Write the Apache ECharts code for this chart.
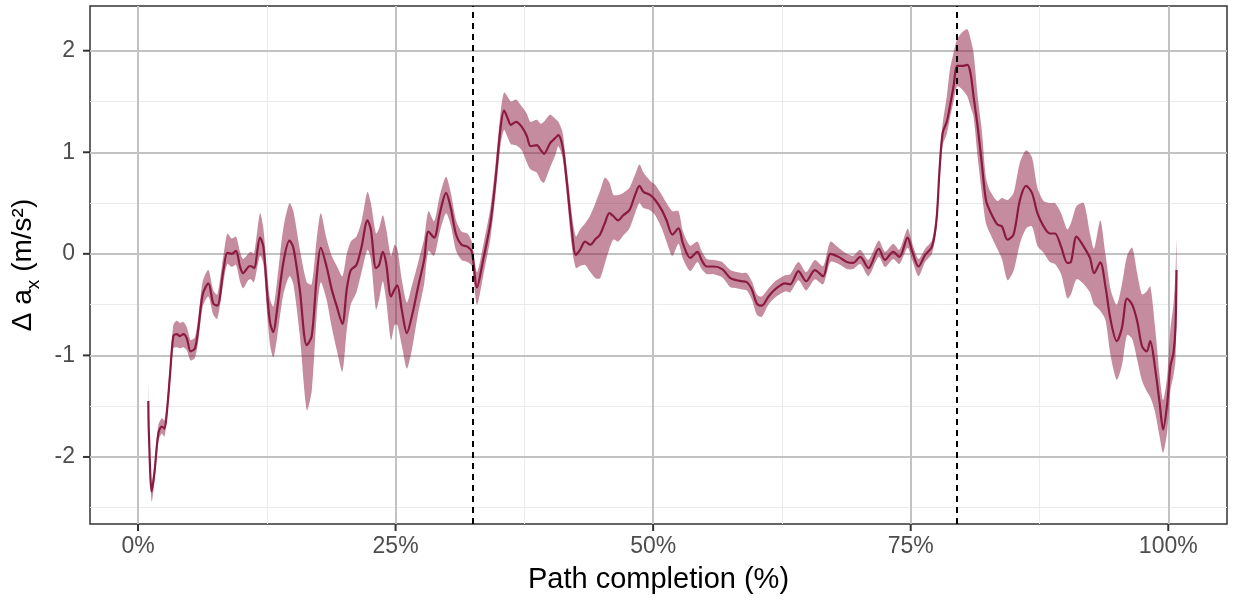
<!DOCTYPE html>
<html><head><meta charset="utf-8">
<script src="https://cdn.jsdelivr.net/npm/echarts@6/dist/echarts.min.js"></script>
<style>html,body{margin:0;padding:0;background:#fff}#c{width:1233px;height:603px}</style>
</head><body><div id="c"></div>
<script>
const pathPct = [1.0,1.05,1.33,1.6,1.97,2.3,2.56,2.79,3.1,3.43,3.75,4.08,4.4,4.73,5.11,5.53,5.86,6.28,6.83,7.31,7.70,8.29,8.67,9.1,9.51,9.9,10.2,10.7,10.94,11.26,11.84,12.17,12.56,12.82,13.14,13.46,14.1,14.7,15.08,15.7,16.38,16.86,17.35,17.74,18.3,18.8,19.3,19.84,20.26,20.65,21.2,21.7,22.27,22.6,23.1,23.4,23.76,24.08,24.56,24.9,25.17,25.6,26.1,26.57,27.2,27.77,28.19,28.74,29.3,29.9,30.36,30.87,31.4,31.97,32.4,32.9,33.5,34.2,34.7,35.2,35.53,35.86,36.2,36.7,37.25,37.74,38.1,38.7,39.1,39.4,40.0,40.5,40.8,41.2,41.6,42.1,42.5,42.9,43.4,43.9,44.4,44.85,45.3,45.76,46.15,46.6,47.1,47.7,48.25,48.67,49.06,49.7,50.2,50.84,51.3,51.87,52.46,52.9,53.6,54.3,54.7,55.2,55.86,56.7,57.5,58.1,58.6,59.1,59.58,60.07,60.55,61.2,61.84,62.8,63.3,64.1,64.85,65.7,66.5,67.2,68.0,68.8,69.4,70.1,70.9,71.9,72.5,73.3,73.9,74.7,75.1,75.76,76.4,77.06,77.5,77.8,78.1,78.5,78.8,79.16,79.5,79.97,80.5,80.8,81.1,81.5,81.9,82.3,82.7,83.4,83.85,84.4,84.98,85.6,86.2,86.77,87.3,87.9,88.5,89.0,89.6,90.2,90.55,91.1,91.8,92.4,92.8,93.4,93.9,94.4,95.0,95.5,96.0,96.5,97.0,97.45,97.9,98.25,98.7,99.16,99.5,99.9,100.2,100.5,100.7,100.8];
const meanVals = [-1.45,-1.75,-2.34,-2.15,-1.77,-1.70,-1.72,-1.57,-1.20,-0.81,-0.79,-0.81,-0.79,-0.83,-0.96,-0.93,-0.73,-0.40,-0.29,-0.49,-0.51,-0.16,0.01,0.00,0.03,-0.125,-0.19,-0.13,-0.12,-0.14,0.16,0.07,-0.42,-0.68,-0.77,-0.58,-0.09,0.13,0.06,-0.35,-0.90,-0.81,-0.22,0.06,-0.125,-0.35,-0.52,-0.69,-0.35,-0.16,-0.11,0.07,0.33,0.24,-0.14,-0.11,0.02,-0.09,-0.42,-0.35,-0.31,-0.55,-0.78,-0.62,-0.32,-0.06,0.22,0.16,0.40,0.60,0.45,0.19,0.09,0.07,0.02,-0.33,-0.06,0.30,0.73,1.25,1.41,1.34,1.27,1.30,1.25,1.16,1.06,1.07,1.02,0.985,1.09,1.14,1.17,1.06,0.73,0.24,-0.01,0.04,0.12,0.09,0.145,0.19,0.30,0.40,0.37,0.33,0.38,0.43,0.58,0.67,0.61,0.58,0.53,0.43,0.33,0.19,0.25,0.10,-0.04,0.02,-0.06,-0.125,-0.125,-0.15,-0.24,-0.26,-0.27,-0.28,-0.35,-0.49,-0.51,-0.42,-0.35,-0.29,-0.30,-0.17,-0.27,-0.16,-0.22,0.00,-0.03,-0.08,-0.09,-0.03,-0.14,0.05,-0.06,0.02,-0.03,0.16,0.04,-0.125,-0.01,0.07,0.33,0.83,1.19,1.30,1.45,1.65,1.85,1.85,1.86,1.78,1.55,1.25,0.89,0.53,0.42,0.29,0.27,0.14,0.19,0.53,0.67,0.60,0.40,0.27,0.20,0.20,0.07,-0.09,-0.08,0.17,0.07,-0.04,-0.19,-0.085,-0.32,-0.65,-0.86,-0.73,-0.44,-0.50,-0.67,-0.91,-0.96,-0.86,-1.11,-1.47,-1.73,-1.47,-1.11,-0.98,-0.72,-0.16];
const lowerVals = [-1.50,-1.85,-2.44,-2.24,-1.85,-1.77,-1.80,-1.64,-1.28,-0.93,-0.92,-0.93,-0.92,-0.95,-1.05,-1.02,-0.85,-0.52,-0.42,-0.60,-0.64,-0.28,-0.10,-0.13,-0.11,-0.27,-0.34,-0.26,-0.25,-0.28,-0.02,-0.10,-0.62,-0.90,-1.02,-0.85,-0.40,-0.22,-0.30,-0.80,-1.54,-1.35,-0.60,-0.28,-0.45,-0.72,-0.95,-1.16,-0.75,-0.50,-0.38,-0.18,0.04,-0.05,-0.55,-0.45,-0.27,-0.45,-0.85,-0.70,-0.70,-0.90,-1.13,-0.95,-0.58,-0.30,0.03,-0.02,0.22,0.40,0.28,0.03,-0.06,-0.08,-0.12,-0.50,-0.22,0.15,0.58,1.08,1.22,1.15,1.08,1.07,1.02,0.90,0.83,0.80,0.72,0.70,0.85,0.97,1.06,0.95,0.60,0.08,-0.14,-0.12,-0.11,-0.18,-0.24,-0.24,-0.10,0.05,0.14,0.12,0.18,0.25,0.40,0.50,0.45,0.43,0.38,0.25,0.12,-0.02,0.10,-0.05,-0.17,-0.08,-0.15,-0.20,-0.20,-0.23,-0.33,-0.34,-0.35,-0.36,-0.45,-0.60,-0.62,-0.50,-0.43,-0.37,-0.38,-0.26,-0.36,-0.25,-0.30,-0.08,-0.10,-0.15,-0.15,-0.10,-0.22,-0.03,-0.13,-0.05,-0.10,0.06,-0.05,-0.22,-0.08,0.00,0.25,0.72,1.07,1.18,1.33,1.50,1.65,1.62,1.55,1.45,1.35,0.95,0.60,0.30,0.20,0.05,-0.05,-0.26,-0.17,0.10,0.25,0.27,0.08,0.01,-0.08,-0.10,-0.20,-0.44,-0.40,-0.25,-0.30,-0.38,-0.50,-0.56,-0.65,-1.00,-1.24,-1.10,-0.80,-0.84,-1.05,-1.25,-1.35,-1.41,-1.55,-1.80,-1.96,-1.75,-1.35,-1.20,-1.05,-0.55];
const upperVals = [-1.29,-1.66,-2.26,-2.07,-1.69,-1.62,-1.64,-1.49,-1.10,-0.70,-0.66,-0.68,-0.67,-0.72,-0.85,-0.82,-0.62,-0.27,-0.16,-0.36,-0.40,-0.02,0.20,0.15,0.17,0.02,-0.05,0.00,0.02,0.00,0.40,0.25,-0.22,-0.45,-0.52,-0.30,0.25,0.50,0.42,0.05,-0.28,-0.30,0.15,0.40,0.15,-0.02,-0.12,-0.22,0.00,0.12,0.17,0.32,0.61,0.50,0.20,0.25,0.38,0.25,-0.02,0.09,0.05,-0.25,-0.48,-0.32,-0.08,0.15,0.42,0.32,0.58,0.76,0.60,0.33,0.22,0.20,0.12,-0.18,0.08,0.45,0.88,1.40,1.59,1.55,1.50,1.52,1.45,1.38,1.30,1.32,1.28,1.30,1.37,1.33,1.30,1.20,0.86,0.40,0.17,0.24,0.30,0.38,0.50,0.62,0.75,0.70,0.58,0.58,0.60,0.65,0.78,0.88,0.80,0.72,0.68,0.58,0.50,0.42,0.42,0.22,0.08,0.12,0.03,-0.05,-0.06,-0.08,-0.16,-0.18,-0.19,-0.19,-0.27,-0.40,-0.42,-0.34,-0.27,-0.21,-0.20,-0.08,-0.18,-0.06,-0.12,0.12,0.06,0.00,-0.02,0.04,-0.06,0.13,0.02,0.10,0.04,0.25,0.12,-0.05,0.05,0.13,0.42,0.93,1.28,1.55,1.81,1.98,2.11,2.18,2.21,2.12,1.98,1.55,1.22,0.75,0.62,0.52,0.55,0.53,0.60,0.90,1.02,0.95,0.65,0.52,0.50,0.50,0.40,0.24,0.30,0.47,0.50,0.20,0.05,0.33,0.00,-0.35,-0.50,-0.30,-0.02,0.06,-0.20,-0.40,-0.37,-0.32,-0.70,-1.20,-1.44,-1.20,-0.75,-0.50,-0.20,0.14];
const phaseBoundaries = [32.5, 79.5];
const xTicks = [0, 25, 50, 75, 100];
const xMinorTicks = [12.5, 37.5, 62.5, 87.5];
const yTicks = [-2, -1, 0, 1, 2];
const yMinorTicks = [-2.5, -1.5, -0.5, 0.5, 1.5];

const X_MIN = -4.66, X_MAX = 105.7, Y_MIN = -2.66, Y_MAX = 2.44;
const lineColor = '#8b1a41';
const bandColor = 'rgba(139,26,65,0.5)';
const font = '"Liberation Sans", Arial, sans-serif';
const TICK_LEN = 7;

const meanData = pathPct.map((x, i) => [x, meanVals[i]]);

const gridLines = (vals, axis, color, width) => vals.map(v => ({
  [axis]: v, lineStyle: { color: color, width: width, type: 'solid' }
}));

const chart = echarts.init(document.getElementById('c'), null, { renderer: 'canvas' });
chart.setOption({
  animation: false,
  backgroundColor: '#fff',
  grid: { left: 90, right: 6, top: 6, bottom: 79, show: true, borderColor: '#333', borderWidth: 1.5, backgroundColor: '#fff', containLabel: false },
  xAxis: {
    type: 'value', min: X_MIN, max: X_MAX, position: 'bottom',
    name: 'Path completion (%)', nameLocation: 'middle', nameGap: 41,
    nameTextStyle: { fontFamily: font, fontSize: 29, color: '#000' },
    axisLine: { show: false, onZero: false },
    axisTick: { show: false },
    axisLabel: { customValues: xTicks, formatter: v => v + '%', fontFamily: font, fontSize: 23, color: '#4d4d4d', margin: 11 },
    splitLine: { show: false }
  },
  yAxis: {
    type: 'value', min: Y_MIN, max: Y_MAX, position: 'left',
    name: '{a|Δ a}{s|x}{a| (m/s²)}', nameLocation: 'middle', nameGap: 48,
    nameTextStyle: {
      fontFamily: font, fontSize: 28, color: '#000',
      rich: {
        a: { fontFamily: font, fontSize: 28, color: '#000', lineHeight: 34, verticalAlign: 'bottom' },
        s: { fontFamily: font, fontSize: 19, color: '#000', lineHeight: 34, verticalAlign: 'bottom', padding: [0, 0, -6, 0] }
      }
    },
    axisLine: { show: false, onZero: false },
    axisTick: { show: false },
    axisLabel: { customValues: yTicks, fontFamily: font, fontSize: 23, color: '#4d4d4d', margin: 15 },
    splitLine: { show: false }
  },
  series: [
    {
      type: 'line', name: 'grid', data: [], z: 0, silent: true,
      markLine: {
        silent: true, symbol: ['none', 'none'], label: { show: false }, z: 0, animation: false,
        data: gridLines(xMinorTicks, 'xAxis', '#ebebeb', 1)
          .concat(gridLines(yMinorTicks, 'yAxis', '#ebebeb', 1))
          .concat(gridLines(xTicks, 'xAxis', '#c2c2c2', 2))
          .concat(gridLines(yTicks, 'yAxis', '#c2c2c2', 2))
      }
    },
    {
      type: 'custom', name: 'band', z: 2, silent: true,
      data: [[pathPct[0], meanVals[0]]],
      renderItem: function (params, api) {
        const pts = [];
        for (let i = 0; i < pathPct.length; i++) pts.push(api.coord([pathPct[i], upperVals[i]]));
        for (let i = pathPct.length - 1; i >= 0; i--) pts.push(api.coord([pathPct[i], lowerVals[i]]));
        return { type: 'polygon', shape: { points: pts, smooth: 0.25 }, style: { fill: bandColor } };
      }
    },
    {
      type: 'line', name: 'mean', data: meanData, symbol: 'none', smooth: 0.3,
      lineStyle: { color: lineColor, width: 2.2 }, z: 3, silent: true,
      markLine: {
        silent: true, symbol: ['none', 'none'], label: { show: false }, z: 4, animation: false,
        lineStyle: { color: '#000', width: 2, type: [6, 5] },
        data: phaseBoundaries.map(v => ({ xAxis: v }))
      }
    }
  ]
});

// Axis tick marks outside the panel, placed through the chart's own scales
const tickGraphics = [];
xTicks.forEach(v => {
  const p = chart.convertToPixel({ gridIndex: 0 }, [v, Y_MIN]);
  tickGraphics.push({ type: 'line', silent: true, z: 100, shape: { x1: p[0], y1: p[1], x2: p[0], y2: p[1] + TICK_LEN }, style: { stroke: '#333', lineWidth: 2 } });
});
yTicks.forEach(v => {
  const p = chart.convertToPixel({ gridIndex: 0 }, [X_MIN, v]);
  tickGraphics.push({ type: 'line', silent: true, z: 100, shape: { x1: p[0] - TICK_LEN, y1: p[1], x2: p[0], y2: p[1] }, style: { stroke: '#333', lineWidth: 2 } });
});
chart.setOption({ graphic: { elements: tickGraphics } });
</script>
</body></html>
